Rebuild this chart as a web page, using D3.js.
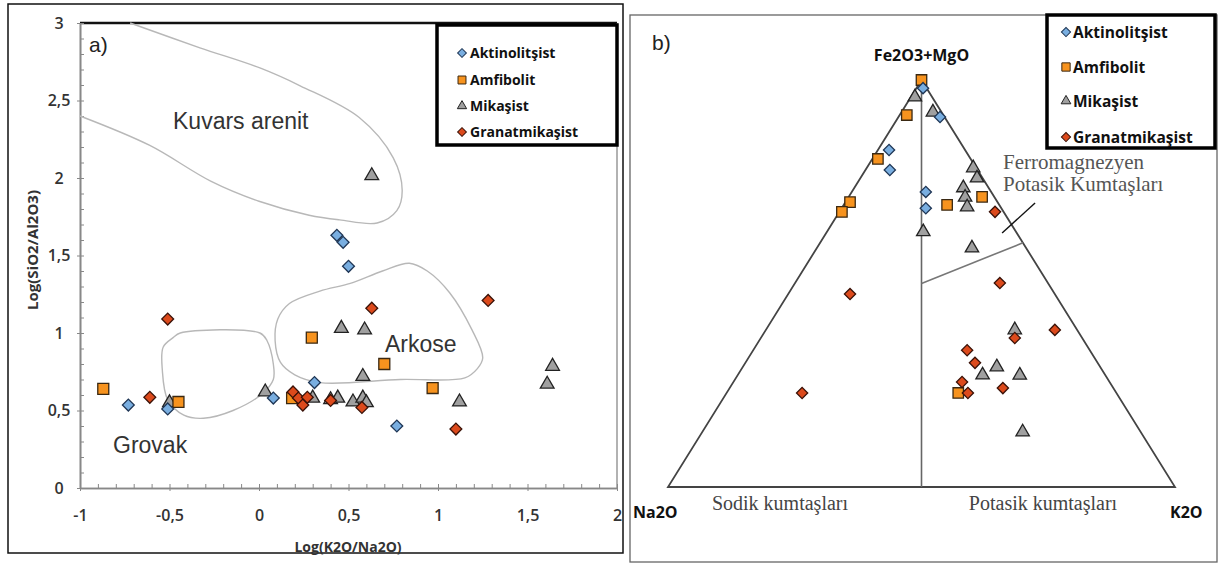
<!DOCTYPE html>
<html lang="tr">
<head>
<meta charset="UTF-8">
<title>Log(SiO2/Al2O3) - Log(K2O/Na2O) ve üçgen diyagram</title>
<style>
  body { margin: 0; background: #fff; }
  svg { display: block; }
  .tick text { font-family: "Open Sans", sans-serif; font-weight: 600; fill: #333; }
</style>
</head>
<body>
<svg id="chart" width="1223" height="563"></svg>
<script src="https://d3js.org/d3.v7.min.js"></script>
<script>
// ---- data, panel a) : [Log(K2O/Na2O), Log(SiO2/Al2O3)]
const groups = ["Aktinolitşist", "Amfibolit", "Mikaşist", "Granatmikaşist"];
const xTicks = [-1, -0.5, 0, 0.5, 1, 1.5, 2];
const yTicks = [0, 0.5, 1, 1.5, 2, 2.5, 3];

const aktA = [[-0.73,0.535],[-0.51,0.51],[0.08,0.58],[0.31,0.68],[0.435,1.63],[0.47,1.585],[0.50,1.43],[0.77,0.40]];
const amfA = [[-0.87,0.64],[-0.45,0.555],[0.295,0.97],[0.70,0.80],[0.97,0.645],[0.185,0.58]];
const mikA = [[0.63,2.015],[-0.50,0.55],[0.035,0.62],[0.30,0.58],[0.40,0.57],[0.44,0.58],[0.525,0.555],[0.58,0.58],
              [0.60,0.55],[0.58,0.72],[0.46,1.03],[0.59,1.02],[1.12,0.555],[1.64,0.785],[1.61,0.67]];
const graA = [[-0.51,1.09],[-0.61,0.585],[0.19,0.62],[0.22,0.58],[0.245,0.535],[0.27,0.585],[0.40,0.565],
              [0.575,0.52],[0.63,1.16],[1.28,1.21],[1.10,0.38]];

// field boundaries
const kuvarsField = [[-0.72,3.0],[-0.33,2.84],[0.005,2.71],[0.23,2.595],[0.56,2.39],[0.75,2.13],[0.80,1.92],[0.77,1.79],
                     [0.66,1.71],[0.45,1.73],[0.28,1.76],[0.0,1.85],[-0.27,1.98],[-0.61,2.21],[-1.0,2.40]];
const grovakField = [[-0.44,1.0],[0.005,1.0],[0.045,0.95],[0.08,0.80],[0.08,0.70],[0.02,0.61],[-0.145,0.50],[-0.31,0.45],
                     [-0.42,0.47],[-0.51,0.57],[-0.54,0.76],[-0.535,0.91],[-0.48,0.97]];
const arkoseField = [[0.84,1.45],[0.94,1.40],[1.065,1.26],[1.19,1.02],[1.25,0.84],[1.22,0.77],[1.15,0.71],[0.79,0.70],
                     [0.34,0.68],[0.20,0.73],[0.12,0.81],[0.09,0.95],[0.105,1.09],[0.17,1.19],[0.34,1.27],[0.51,1.32],[0.69,1.40]];

// ---- data, panel b) : [Na2O, K2O, Fe2O3+MgO] %
const aktB = [[0.7,1.3,98.0],[0.9,8.2,90.9],[15.0,2.2,82.8],[17.3,4.8,77.9],[12.9,14.6,72.5],[14.9,16.6,68.5]];
const amfB = [[0,0,100],[7.2,1.4,91.4],[18.3,1.1,80.6],[29.1,0.9,70.0],[31.9,0.5,67.6],[10.3,20.4,69.3],[2.4,26.3,71.3],[31.2,45.7,23.1]];
const mikB = [[3.4,0.8,95.8],[1.7,6.2,92.1],[0.6,21.0,78.4],[1.1,23.0,75.9],[5.0,21.5,73.5],[5.8,23.0,71.2],[6.6,24.6,68.8],
              [18.3,19.0,62.7],[10.7,30.6,58.7],[12.3,49.1,38.6],[20.4,50.1,29.5],[24.2,48.3,27.5],[16.9,55.7,27.5],[23.3,63.2,13.5]];
const graB = [[1.7,30.7,67.6],[40.4,12.2,47.4],[62.0,14.9,23.1],[9.5,40.4,50.1],[13.3,50.1,36.6],[4.4,57.0,38.6],
              [24.2,42.2,33.6],[24.2,45.3,30.5],[29.1,45.1,25.8],[29.3,47.6,23.1],[21.8,53.9,24.3]];

const triCorners = [[100,0,0],[0,100,0],[0,0,100]];
const midLine = [[0,0,100],[50,50,0]];
const ferroLine = [[25,25,50],[0,40,60]];
const pointer = [[2.9,34.7,62.4],[-7.3,37.5,69.8]];

// marker styles
const style = {
  "Aktinolitşist":  { shape: d3.symbolSquare,   rot: 45, fill: "#79aee0", stroke: "#1f3655" },
  "Amfibolit":      { shape: d3.symbolSquare,   rot: 0,  fill: "#f7931e", stroke: "#3a2812" },
  "Mikaşist":       { shape: d3.symbolTriangle, rot: 0,  fill: "#a0a0a0", stroke: "#222" },
  "Granatmikaşist": { shape: d3.symbolSquare,   rot: 45, fill: "#dc4a1c", stroke: "#3a1208" }
};
const baseSize = { "Aktinolitşist": 70, "Amfibolit": 115, "Mikaşist": 68, "Granatmikaşist": 70 };

const svg = d3.select("#chart");
const comma = d => String(d).replace(".", ",");

function drawPoints(g, data, name, pos, k) {
  const st = style[name];
  g.append("g").selectAll("path").data(data).join("path")
    .attr("d", d3.symbol(st.shape, baseSize[name] * k))
    .attr("transform", d => { const p = pos(d); return `translate(${p[0]},${p[1]}) rotate(${st.rot})`; })
    .attr("fill", st.fill).attr("stroke", st.stroke).attr("stroke-width", 1.3);
}

function drawLegend(g, x0, y0, w, h, rows, fs, k) {
  g.append("rect").attr("x", x0).attr("y", y0).attr("width", w).attr("height", h)
    .attr("fill", "#fff").attr("stroke", "#000").attr("stroke-width", 3.5);
  groups.forEach((name, i) => {
    const st = style[name];
    g.append("path").attr("d", d3.symbol(st.shape, baseSize[name] * k))
      .attr("transform", `translate(${rows.mx},${rows.y[i]}) rotate(${st.rot})`)
      .attr("fill", st.fill).attr("stroke", st.stroke).attr("stroke-width", 1);
    g.append("text").attr("x", rows.tx).attr("y", rows.y[i]).attr("dy", "0.36em")
      .attr("font-family", "Open Sans, sans-serif").attr("font-weight", 700)
      .attr("font-size", fs).attr("fill", "#111").text(name);
  });
}

// ================= panel a) =================
const x = d3.scaleLinear().domain([-1, 2]).range([80, 617]);
const y = d3.scaleLinear().domain([0, 3]).range([488, 23]);
const a = svg.append("g");

a.append("rect").attr("x", 8).attr("y", 4).attr("width", 615).attr("height", 549)
  .attr("fill", "none").attr("stroke", "#111").attr("stroke-width", 1.5);

a.append("line").attr("x1", x(-1)).attr("x2", x(2)).attr("y1", y(3)).attr("y2", y(3))
  .attr("stroke", "#111").attr("stroke-width", 2.5);
a.append("line").attr("x1", x(2)).attr("x2", x(2)).attr("y1", y(3)).attr("y2", y(0))
  .attr("stroke", "#999").attr("stroke-width", 1.5);

const minorX = d3.range(-10, 21).map(i => i / 10);
const minorY = d3.range(0, 31).map(i => i / 10);

const gx = a.append("g").attr("transform", `translate(0,${y(0)})`);
gx.call(d3.axisBottom(x).tickValues(minorX).tickSize(-4).tickSizeOuter(0).tickFormat(""));
gx.call(g => g.append("g").call(d3.axisBottom(x).tickValues(xTicks).tickSize(3).tickSizeOuter(0).tickFormat(comma)));
gx.selectAll("path.domain").attr("stroke", "#888").attr("stroke-width", 1.6);
gx.selectAll("line").attr("stroke", "#888");
gx.selectAll("text").attr("font-size", 16).attr("y", 22);

const gy = a.append("g").attr("transform", `translate(${x(-1)},0)`);
gy.call(d3.axisLeft(y).tickValues(minorY).tickSize(-4).tickSizeOuter(0).tickFormat(""));
gy.call(g => g.append("g").call(d3.axisLeft(y).tickValues(yTicks).tickSize(3).tickSizeOuter(0).tickFormat(comma)));
gy.selectAll("path.domain").attr("stroke", "#888").attr("stroke-width", 1.6);
gy.selectAll("line").attr("stroke", "#888");
gy.selectAll("text").attr("font-size", 16).attr("x", -21).attr("text-anchor", "middle");

a.append("text").attr("transform", `translate(38,250) rotate(-90)`).attr("text-anchor", "middle")
  .attr("font-family", "Open Sans, sans-serif").attr("font-weight", 700).attr("font-size", 15)
  .attr("fill", "#333").text("Log(SiO2/Al2O3)");
a.append("text").attr("x", 348).attr("y", 552).attr("text-anchor", "middle")
  .attr("font-family", "Open Sans, sans-serif").attr("font-weight", 700).attr("font-size", 14)
  .attr("fill", "#333").text("Log(K2O/Na2O)");

// fields
const fieldOpen = d3.line().x(d => x(d[0])).y(d => y(d[1])).curve(d3.curveCatmullRom);
const fieldClosed = d3.line().x(d => x(d[0])).y(d => y(d[1])).curve(d3.curveCatmullRomClosed);
a.append("path").attr("d", fieldOpen(kuvarsField)).attr("fill", "none").attr("stroke", "#b8b8b8").attr("stroke-width", 1.4);
a.append("path").attr("d", fieldClosed(grovakField)).attr("fill", "none").attr("stroke", "#b8b8b8").attr("stroke-width", 1.4);
a.append("path").attr("d", fieldClosed(arkoseField)).attr("fill", "none").attr("stroke", "#b8b8b8").attr("stroke-width", 1.4);

const regText = (t, px, py) => a.append("text").attr("x", px).attr("y", py)
  .attr("font-family", "Liberation Sans, Arial, sans-serif").attr("font-size", 23).attr("fill", "#333").text(t);
regText("Kuvars arenit", 173, 129);
regText("Arkose", 385, 352);
regText("Grovak", 113, 453);
a.append("text").attr("x", 89).attr("y", 52).attr("font-family", "Liberation Sans, Arial, sans-serif")
  .attr("font-size", 21).attr("fill", "#222").text("a)");

const posA = d => [x(d[0]), y(d[1])];
drawPoints(a, mikA, "Mikaşist", posA, 1.2);
drawPoints(a, amfA, "Amfibolit", posA, 1.05);
drawPoints(a, aktA, "Aktinolitşist", posA, 1.0);
drawPoints(a, graA, "Granatmikaşist", posA, 1.0);

drawLegend(a, 437, 25, 180, 120, { mx: 462, tx: 470, y: [53, 80, 106, 132] }, 14, 0.55);

// ================= panel b) =================
const tx = d3.scaleLinear().domain([0, 1]).range([668, 1175]);
const ty = d3.scaleLinear().domain([0, 1]).range([487, 80]);
const tern = p => { const s = p[0] + p[1] + p[2]; const f = p[2] / s, k = p[1] / s; return [tx(k + f / 2), ty(f)]; };
const tline = d3.line().x(d => tern(d)[0]).y(d => tern(d)[1]);

const b = svg.append("g");
b.append("rect").attr("x", 630).attr("y", 15).attr("width", 587).attr("height", 547)
  .attr("fill", "none").attr("stroke", "#666").attr("stroke-width", 1.3);

b.append("path").attr("d", tline(triCorners) + "Z").attr("fill", "none").attr("stroke", "#444").attr("stroke-width", 1.8);
b.append("path").attr("d", tline(midLine)).attr("stroke", "#666").attr("stroke-width", 1.6);
b.append("path").attr("d", tline(ferroLine)).attr("stroke", "#777").attr("stroke-width", 1.6);
b.append("path").attr("d", tline(pointer)).attr("stroke", "#111").attr("stroke-width", 1.4);

const boldLab = (t, px, py, anchor) => b.append("text").attr("x", px).attr("y", py).attr("text-anchor", anchor)
  .attr("font-family", "Open Sans, sans-serif").attr("font-weight", 700).attr("font-size", 16).attr("fill", "#111").text(t);
boldLab("Fe2O3+MgO", tern([0, 0, 100])[0], 61, "middle");
boldLab("Na2O", 633, 518, "start");
boldLab("K2O", 1170, 518, "start");

const serif = (t, px, py, anchor, col, fs) => b.append("text").attr("x", px).attr("y", py).attr("text-anchor", anchor)
  .attr("font-family", "Liberation Serif, Times New Roman, serif").attr("font-size", fs).attr("fill", col).text(t);
serif("Sodik kumtaşları", 780, 510, "middle", "#444", 20);
serif("Potasik kumtaşları", 1043, 510, "middle", "#444", 20);
serif("Ferromagnezyen", 1003, 169, "start", "#555", 21);
serif("Potasik Kumtaşları", 1003, 191, "start", "#555", 21);

b.append("text").attr("x", 652).attr("y", 50).attr("font-family", "Liberation Sans, Arial, sans-serif")
  .attr("font-size", 21).attr("fill", "#222").text("b)");

drawPoints(b, mikB, "Mikaşist", tern, 1.15);
drawPoints(b, amfB, "Amfibolit", tern, 0.95);
drawPoints(b, aktB, "Aktinolitşist", tern, 0.9);
drawPoints(b, graB, "Granatmikaşist", tern, 0.9);

drawLegend(b, 1047, 15, 168, 133, { mx: 1066, tx: 1073, y: [32, 67, 101, 137] }, 15.5, 0.6);
</script>
</body>
</html>
